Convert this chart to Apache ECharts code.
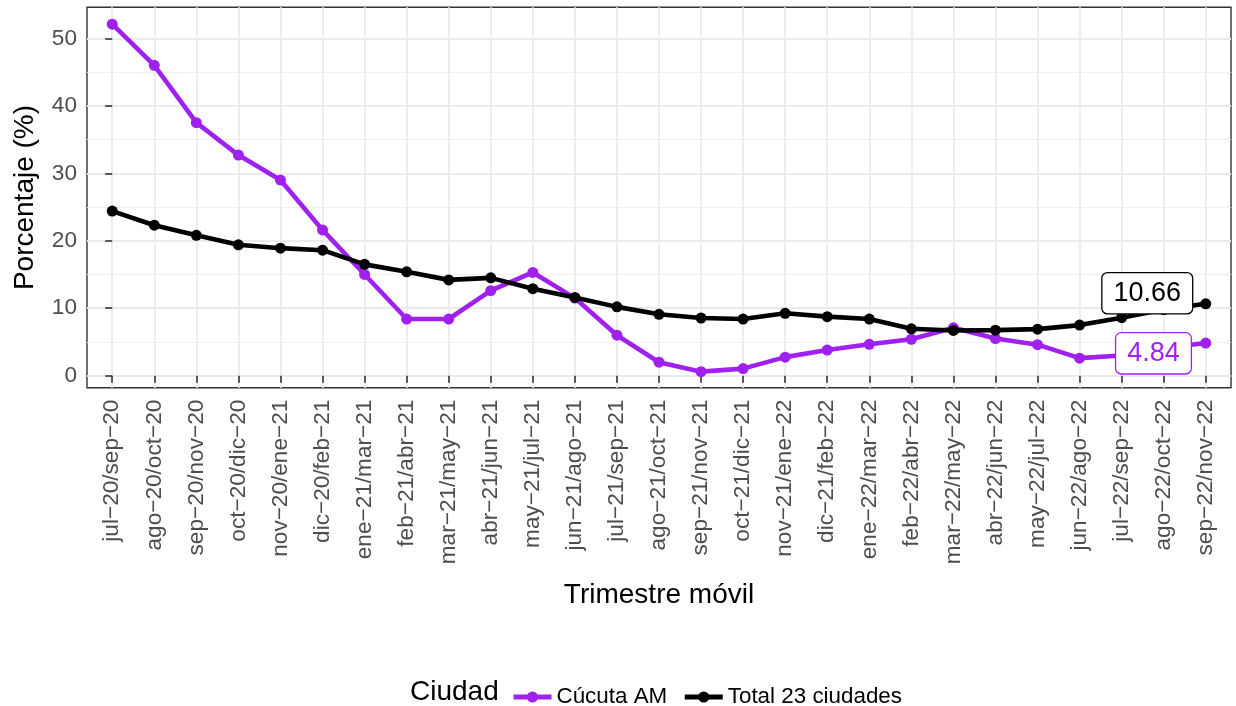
<!DOCTYPE html>
<html>
<head>
<meta charset="utf-8">
<script src="https://cdn.jsdelivr.net/npm/echarts@6/dist/echarts.min.js"></script>
<style>
html,body{margin:0;padding:0;background:#fff;}
#chart{width:1236px;height:706px;}
</style>
</head>
<body>
<div id="chart"></div>
<script>
const categories = ["jul\u221220/sep\u221220","ago\u221220/oct\u221220","sep\u221220/nov\u221220","oct\u221220/dic\u221220","nov\u221220/ene\u221221","dic\u221220/feb\u221221","ene\u221221/mar\u221221","feb\u221221/abr\u221221","mar\u221221/may\u221221","abr\u221221/jun\u221221","may\u221221/jul\u221221","jun\u221221/ago\u221221","jul\u221221/sep\u221221","ago\u221221/oct\u221221","sep\u221221/nov\u221221","oct\u221221/dic\u221221","nov\u221221/ene\u221222","dic\u221221/feb\u221222","ene\u221222/mar\u221222","feb\u221222/abr\u221222","mar\u221222/may\u221222","abr\u221222/jun\u221222","may\u221222/jul\u221222","jun\u221222/ago\u221222","jul\u221222/sep\u221222","ago\u221222/oct\u221222","sep\u221222/nov\u221222"];
const cucuta = [52.1, 46.0, 37.5, 32.7, 29.0, 21.6, 15.0, 8.4, 8.4, 12.6, 15.3, 11.5, 6.0, 2.0, 0.6, 1.05, 2.75, 3.8, 4.65, 5.4, 7.1, 5.5, 4.6, 2.6, 3.0, 4.1, 4.84];
const total = [24.4, 22.3, 20.8, 19.4, 18.9, 18.6, 16.5, 15.4, 14.2, 14.5, 12.9, 11.6, 10.2, 9.1, 8.55, 8.4, 9.25, 8.75, 8.4, 6.95, 6.7, 6.75, 6.9, 7.5, 8.6, 9.8, 10.66];
const yMajorTicks = [0, 10, 20, 30, 40, 50];
const yMinorTicks = [5, 15, 25, 35, 45];
const seriesNames = ["C\u00facuta AM", "Total 23 ciudades"];
const legendTitle = "Ciudad";
const xTitle = "Trimestre m\u00f3vil";
const yTitle = "Porcentaje (%)";

const PURPLE = '#A020F0';
const BLACK = '#000000';
const idx = categories.map((c, i) => i);
const FONT = 'Liberation Sans, Arial, sans-serif';

function buildData(arr, color, offset) {
  return arr.map((v, i) => {
    if (i === arr.length - 1) {
      return {
        value: [i, v],
        label: {
          show: true,
          position: 'inside',
          offset: offset,
          formatter: v.toFixed(2),
          fontFamily: FONT,
          fontSize: 27,
          lineHeight: 28,
          color: color,
          backgroundColor: '#fff',
          borderColor: color,
          borderWidth: 1.3,
          borderRadius: 5,
          padding: [6, 11, 6, 11]
        }
      };
    }
    return [i, v];
  });
}

const chart = echarts.init(document.getElementById('chart'), null, {renderer: 'canvas'});
const gridLeft = 87, gridTop = 7.3, gridRight = 1236 - 1231, gridBottom = 706 - 387.7;
chart.setOption({
  animation: false,
  backgroundColor: '#fff',
  grid: {
    left: gridLeft, top: gridTop, right: gridRight, bottom: gridBottom,
    show: true, backgroundColor: '#fff', borderColor: '#333333', borderWidth: 1.4,
    containLabel: false
  },
  xAxis: {
    type: 'value', min: -0.6, max: 26.6,
    axisLine: {show: false},
    axisTick: {show: true, customValues: idx, length: 7, lineStyle: {color: '#333333', width: 1.6}},
    axisLabel: {
      customValues: idx, rotate: 90, margin: 12,
      formatter: v => categories[Math.round(v)] || '',
      color: '#4D4D4D', fontFamily: FONT, fontSize: 22.6
    },
    splitLine: {show: true, lineStyle: {color: '#EBEBEB', width: 1.8}}
  },
  yAxis: [{
    type: 'value', min: -1.78, max: 54.6,
    axisLine: {show: false},
    axisTick: {show: true, customValues: yMajorTicks, length: 7, lineStyle: {color: '#333333', width: 1.6}},
    axisLabel: {customValues: yMajorTicks, margin: 10, color: '#4D4D4D', fontFamily: FONT, fontSize: 22.6},
    splitLine: {show: true, lineStyle: {color: '#EBEBEB', width: 1.8}}
  }, {
    type: 'value', min: -1.78, max: 54.6, position: 'left',
    axisLine: {show: false},
    axisTick: {show: false, customValues: yMinorTicks},
    axisLabel: {show: false, customValues: yMinorTicks},
    splitLine: {show: true, lineStyle: {color: '#EFEFEF', width: 1.1}}
  }],
  legend: {
    left: 506, top: 681,
    itemWidth: 38, itemHeight: 14, itemGap: 15,
    textStyle: {fontFamily: FONT, fontSize: 22.4, color: '#000'},
    lineStyle: {width: 5},
    data: seriesNames
  },
  graphic: [
    {type: 'text', left: 410, top: 678, style: {text: legendTitle, font: '28px ' + FONT, fill: '#000'}},
    {type: 'text', x: 659, y: 595, style: {text: xTitle, font: '28px ' + FONT, fill: '#000', textAlign: 'center', textVerticalAlign: 'middle'}},
    {type: 'text', x: 25.5, y: 197.5, rotation: Math.PI / 2, style: {text: yTitle, font: '28px ' + FONT, fill: '#000', textAlign: 'center', textVerticalAlign: 'middle'}}
  ],
  series: [{
    name: seriesNames[0], type: 'line', yAxisIndex: 0,
    data: buildData(cucuta, PURPLE, [-52.3, 10.3]),
    symbol: 'circle', symbolSize: 11, showAllSymbol: true,
    lineStyle: {color: PURPLE, width: 4.6}, itemStyle: {color: PURPLE},
    z: 3
  }, {
    name: seriesNames[1], type: 'line', yAxisIndex: 0,
    data: buildData(total, BLACK, [-58.5, -10.5]),
    symbol: 'circle', symbolSize: 11, showAllSymbol: true,
    lineStyle: {color: BLACK, width: 4.6}, itemStyle: {color: BLACK},
    z: 4
  }]
});
</script>
</body>
</html>
